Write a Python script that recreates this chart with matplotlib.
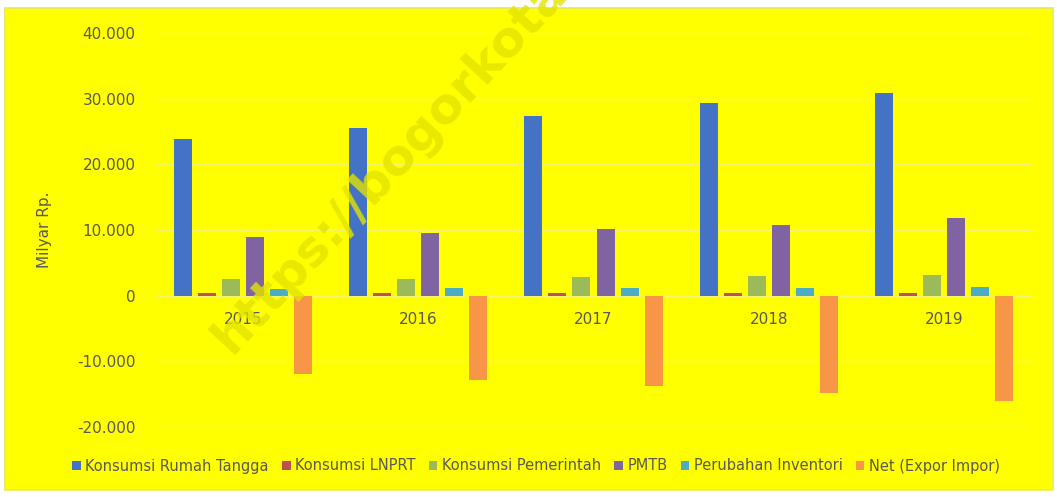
import numpy as np
import matplotlib.pyplot as plt
from matplotlib.patches import Rectangle

years = ['2015', '2016', '2017', '2018', '2019']
series = ['Konsumsi Rumah Tangga', 'Konsumsi LNPRT', 'Konsumsi Pemerintah',
          'PMTB', 'Perubahan Inventori', 'Net (Expor Impor)']
rumah_tangga = [23800, 25600, 27400, 29300, 30900]
lnprt = [350, 330, 380, 400, 420]
pemerintah = [2600, 2600, 2900, 3000, 3200]
pmtb = [9000, 9600, 10200, 10800, 11900]
inventori = [1000, 1100, 1100, 1150, 1300]
net_ekspor = [-12000, -12800, -13700, -14800, -16000]
colors = ['#4472c4', '#c0504d', '#9bbb59', '#8064a2', '#4bacc6', '#f79646']

values = [rumah_tangga, lnprt, pemerintah, pmtb, inventori, net_ekspor]
text_col = '#595959'

fig = plt.figure(figsize=(10.57, 4.97), dpi=100)
fig.patch.set_facecolor('white')
fig.patches.append(Rectangle((5 / 1057, 7 / 497), 1048 / 1057, 482 / 497,
                             transform=fig.transFigure, facecolor='#ffff00',
                             edgecolor='#e8e860', linewidth=1.2, zorder=-10))

ax = fig.add_axes([155 / 1057, 1 - 427 / 497, 877 / 1057, 394 / 497])
ax.set_facecolor('none')
ax.set_zorder(1)

x = np.arange(len(years))
pitch = 24 / 175
width = 18 / 175
for i, (name, vals) in enumerate(zip(series, values)):
    ax.bar(x + (i - 2.5) * pitch, vals, width, color=colors[i], label=name, zorder=3)

ax.set_xlim(-0.5, len(years) - 0.5)
ax.set_ylim(-20000, 40000)
ax.set_yticks(np.arange(-20000, 40001, 10000))
ax.set_yticklabels(['{:,}'.format(v).replace(',', '.') for v in range(-20000, 40001, 10000)])
ax.yaxis.grid(True, color='#f4f470', linewidth=1, zorder=0)
for s in ax.spines.values():
    s.set_visible(False)
ax.tick_params(axis='y', length=0, pad=14, labelsize=11, labelcolor=text_col)

ax.spines['bottom'].set_position(('data', 0))
ax.set_xticks(x)
ax.set_xticklabels(years)
ax.tick_params(axis='x', length=0, pad=12, labelsize=11, labelcolor=text_col)

fig.text(45 / 1057, 1 - 230 / 497, 'Milyar Rp.', rotation=90, ha='center',
         va='center', fontsize=11, color=text_col)

leg = fig.legend(loc='center', bbox_to_anchor=(536 / 1057, 1 - 466 / 497), ncol=6,
                 frameon=False, fontsize=10.5, handlelength=0.6, handleheight=0.6,
                 handletextpad=0.3, columnspacing=0.9)
for t in leg.get_texts():
    t.set_color(text_col)

# watermark
fig.text(390 / 1057, 1 - 165 / 497, 'https://bogorkota', rotation=47,
         ha='center', va='center', fontsize=36, fontweight='bold',
         color='#e4e400', alpha=0.8, zorder=5)

fig.savefig('out.png', dpi=100, facecolor=fig.get_facecolor())
